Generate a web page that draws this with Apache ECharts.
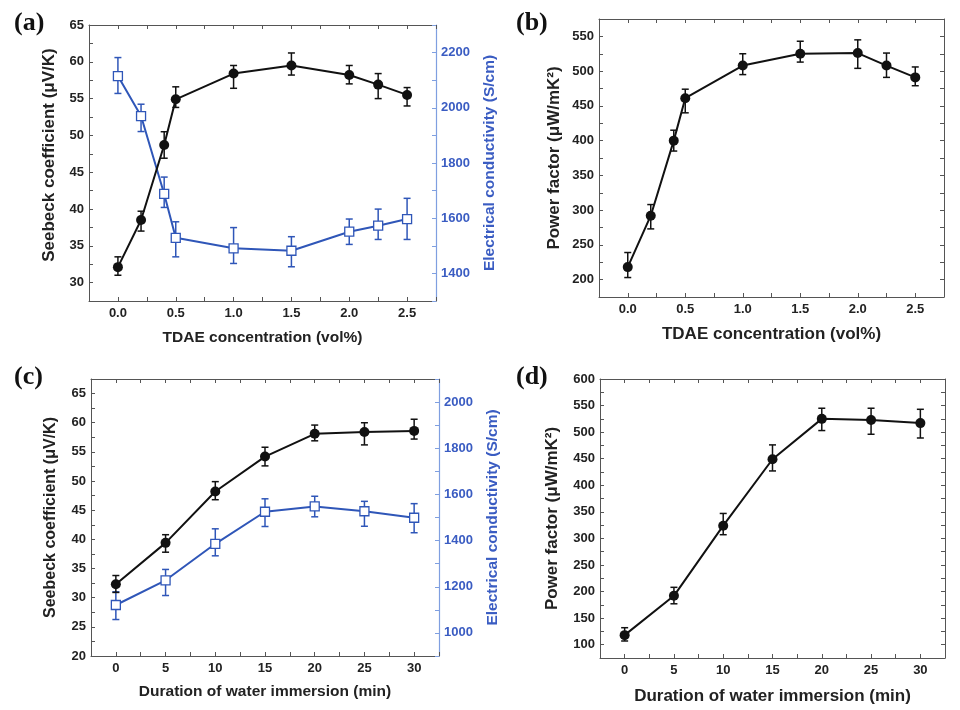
<!DOCTYPE html>
<html>
<head>
<meta charset="utf-8">
<script src="https://cdn.jsdelivr.net/npm/echarts@6/dist/echarts.min.js"></script>
<style>
html,body{margin:0;padding:0;background:#fff;}
#main{width:960px;height:710px;}
</style>
</head>
<body>
<div id="main"></div>
<script>
// ---------- data ----------
var tdaeConc = [0, 0.2, 0.4, 0.5, 1.0, 1.5, 2.0, 2.25, 2.5];
var seebeckA = [32.1, 38.5, 48.7, 54.9, 58.4, 59.5, 58.2, 56.9, 55.5];
var seebeckALo = [31.0, 37.0, 46.9, 53.8, 56.4, 58.2, 57.0, 55.0, 54.0];
var seebeckAHi = [33.5, 39.7, 50.5, 56.6, 59.5, 61.2, 59.5, 58.4, 56.5];
var condA = [2115, 1970, 1688, 1529, 1491, 1482, 1551, 1573, 1597];
var condALo = [2052, 1914, 1639, 1460, 1436, 1424, 1505, 1523, 1523];
var condAHi = [2182, 2013, 1749, 1587, 1566, 1533, 1597, 1633, 1672];
var pfB = [218, 292, 400, 461, 508, 525, 526, 508, 491];
var pfBLo = [203, 273, 385, 440, 495, 513, 504, 491, 479];
var pfBHi = [239, 308, 415, 474, 525, 543, 545, 526, 506];

var immersion = [0, 5, 10, 15, 20, 25, 30];
var seebeckC = [32.3, 39.4, 48.2, 54.2, 58.1, 58.4, 58.6];
var seebeckCLo = [30.9, 37.8, 46.8, 52.6, 56.9, 56.2, 57.2];
var seebeckCHi = [33.8, 40.8, 49.9, 55.8, 59.6, 60.0, 60.6];
var condC = [1121, 1228, 1386, 1525, 1548, 1527, 1499];
var condCLo = [1058, 1162, 1334, 1461, 1503, 1462, 1434];
var condCHi = [1178, 1275, 1451, 1581, 1592, 1570, 1560];
var pfD = [118, 192, 324, 449, 525, 523, 517];
var pfDLo = [107, 177, 307, 427, 503, 496, 489];
var pfDHi = [132, 208, 347, 476, 545, 545, 543];

var panelLabels = ['(a)', '(b)', '(c)', '(d)'];
var xNameA = 'TDAE concentration (vol%)';
var xNameC = 'Duration of water immersion (min)';
var seebeckName = 'Seebeck coefficient (\u03bcV/K)';
var condName = 'Electrical conductivity (S/cm)';
var pfName = 'Power factor (\u03bcW/mK\u00b2)';

// ---------- styles ----------
var BLACK = '#111';
var BLUE = '#2f56b8';
var BLUE_LABEL = '#3a5cc2';
var BLUE_AXIS = '#7f9fe0';
var FRAME = '#555';
var FONT = '"Liberation Sans", Arial, sans-serif';

function pairs(xs, ys) { return xs.map(function (x, i) { return [x, ys[i]]; }); }
function errData(xs, lo, hi) { return xs.map(function (x, i) { return [x, lo[i], hi[i]]; }); }
function isMult(v, step) { var r = v / step; return Math.abs(r - Math.round(r)) < 1e-6; }

function fmt(step, dec) {
  return function (v) { return isMult(v, step) ? (dec ? v.toFixed(dec) : String(Math.round(v))) : ''; };
}

function xAxisPair(grid, min, max, interval, labelStep, dec, name, nameGap, nameSize) {
  var base = {
    type: 'value', gridIndex: grid, min: min, max: max, interval: interval,
    axisLine: { show: true, onZero: false, lineStyle: { color: FRAME, width: 1 } },
    axisTick: { show: true, inside: true, length: 4, lineStyle: { color: FRAME } },
    splitLine: { show: false }
  };
  var bottom = Object.assign({}, base, {
    position: 'bottom',
    name: name, nameLocation: 'middle', nameGap: nameGap,
    nameTextStyle: { fontFamily: FONT, fontWeight: 'bold', fontSize: nameSize, color: '#222' },
    axisLabel: { show: true, margin: 6, fontFamily: FONT, fontWeight: 'bold', fontSize: 13, color: '#222', formatter: fmt(labelStep, dec), showMinLabel: true, showMaxLabel: true }
  });
  var top = Object.assign({}, base, { position: 'top', axisLabel: { show: false } });
  return [bottom, top];
}

function yAxisLeft(grid, min, max, interval, labelStep, name, nameGap, nameSize, namePad) {
  return {
    type: 'value', gridIndex: grid, position: 'left', min: min, max: max, interval: interval,
    name: name, nameLocation: 'middle', nameGap: nameGap, nameRotate: 90,
    nameTextStyle: { fontFamily: FONT, fontWeight: 'bold', fontSize: nameSize, color: '#222', padding: namePad || 0 },
    axisLine: { show: true, onZero: false, lineStyle: { color: FRAME, width: 1 } },
    axisTick: { show: true, inside: true, length: 4, lineStyle: { color: FRAME } },
    axisLabel: { show: true, margin: 5, fontFamily: FONT, fontWeight: 'bold', fontSize: 13, color: '#222', formatter: fmt(labelStep, 0) },
    splitLine: { show: false }
  };
}

function yAxisRightMirror(grid, min, max, interval) {
  return {
    type: 'value', gridIndex: grid, position: 'right', min: min, max: max, interval: interval,
    axisLine: { show: true, onZero: false, lineStyle: { color: FRAME, width: 1 } },
    axisTick: { show: true, inside: true, length: 4, lineStyle: { color: FRAME } },
    axisLabel: { show: false },
    splitLine: { show: false }
  };
}

function yAxisRightBlue(grid, min, max, interval, labelStep, name, nameGap) {
  return {
    type: 'value', gridIndex: grid, position: 'right', min: min, max: max, interval: interval,
    name: name, nameLocation: 'middle', nameGap: nameGap, nameRotate: 90,
    nameTextStyle: { fontFamily: FONT, fontWeight: 'bold', fontSize: 15.5, color: BLUE_LABEL },
    axisLine: { show: true, onZero: false, lineStyle: { color: BLUE_AXIS, width: 1.2 } },
    axisTick: { show: true, inside: true, length: 4, lineStyle: { color: BLUE_AXIS } },
    axisLabel: { show: true, margin: 5, fontFamily: FONT, fontWeight: 'bold', fontSize: 13, color: BLUE_LABEL, formatter: fmt(labelStep, 0) },
    splitLine: { show: false }
  };
}

function errSeries(xi, yi, data, color) {
  return {
    type: 'custom', xAxisIndex: xi, yAxisIndex: yi, z: 2, silent: true,
    data: data,
    renderItem: function (params, api) {
      var x = api.value(0);
      var p1 = api.coord([x, api.value(1)]);
      var p2 = api.coord([x, api.value(2)]);
      var w = 3.5;
      var st = { stroke: color, lineWidth: 1.5, fill: null };
      return {
        type: 'group',
        children: [
          { type: 'line', shape: { x1: p1[0], y1: p1[1], x2: p2[0], y2: p2[1] }, style: st },
          { type: 'line', shape: { x1: p1[0] - w, y1: p1[1], x2: p1[0] + w, y2: p1[1] }, style: st },
          { type: 'line', shape: { x1: p2[0] - w, y1: p2[1], x2: p2[0] + w, y2: p2[1] }, style: st }
        ]
      };
    }
  };
}

function blackLine(xi, yi, data) {
  return {
    type: 'line', xAxisIndex: xi, yAxisIndex: yi, z: 4, data: data,
    symbol: 'circle', symbolSize: 10, showAllSymbol: true,
    itemStyle: { color: BLACK, borderColor: BLACK, borderWidth: 0 },
    lineStyle: { color: BLACK, width: 2 },
    animation: false
  };
}

function blueLine(xi, yi, data) {
  return {
    type: 'line', xAxisIndex: xi, yAxisIndex: yi, z: 3, data: data,
    symbol: 'rect', symbolSize: 9, showAllSymbol: true,
    itemStyle: { color: '#fff', borderColor: BLUE, borderWidth: 1.3 },
    lineStyle: { color: BLUE, width: 2 },
    animation: false
  };
}

var xA = xAxisPair(0, -0.25, 2.75, 0.25, 0.5, 1, xNameA, 29, 15.5);
var xB = xAxisPair(1, -0.25, 2.75, 0.25, 0.5, 1, xNameA, 29, 17);
var xC = xAxisPair(2, -2.5, 32.5, 2.5, 5, 0, xNameC, 28, 15.5);
var xD = xAxisPair(3, -2.5, 32.5, 2.5, 5, 0, xNameC, 30, 17);

var option = {
  backgroundColor: '#fff',
  animation: false,
  grid: [
    { left: 89, top: 25, width: 347, height: 276 },
    { left: 599, top: 19, width: 345, height: 278 },
    { left: 91, top: 379, width: 348, height: 277 },
    { left: 600, top: 379, width: 345, height: 279 }
  ],
  xAxis: [].concat(xA, xB, xC, xD),
  yAxis: [
    yAxisLeft(0, 27.5, 65, 2.5, 5, seebeckName, 31, 17, [0, 0, 0, 16]),
    yAxisRightBlue(0, 1300, 2300, 100, 200, condName, 46),
    yAxisLeft(1, 175, 575, 25, 50, pfName, 36, 17),
    yAxisRightMirror(1, 175, 575, 25),
    yAxisLeft(2, 20, 67.5, 2.5, 5, seebeckName, 32, 16),
    yAxisRightBlue(2, 900, 2100, 100, 200, condName, 46),
    yAxisLeft(3, 75, 600, 25, 50, pfName, 39, 17),
    yAxisRightMirror(3, 75, 600, 25)
  ],
  graphic: [
    { type: 'text', left: 14, top: 10, style: { text: panelLabels[0], font: 'bold 26px "Liberation Serif", "Times New Roman", serif', fill: '#111' } },
    { type: 'text', left: 516, top: 10, style: { text: panelLabels[1], font: 'bold 26px "Liberation Serif", "Times New Roman", serif', fill: '#111' } },
    { type: 'text', left: 14, top: 364, style: { text: panelLabels[2], font: 'bold 26px "Liberation Serif", "Times New Roman", serif', fill: '#111' } },
    { type: 'text', left: 516, top: 364, style: { text: panelLabels[3], font: 'bold 26px "Liberation Serif", "Times New Roman", serif', fill: '#111' } }
  ],
  series: [
    errSeries(0, 1, errData(tdaeConc, condALo, condAHi), BLUE),
    errSeries(0, 0, errData(tdaeConc, seebeckALo, seebeckAHi), BLACK),
    blueLine(0, 1, pairs(tdaeConc, condA)),
    blackLine(0, 0, pairs(tdaeConc, seebeckA)),

    errSeries(2, 2, errData(tdaeConc, pfBLo, pfBHi), BLACK),
    blackLine(2, 2, pairs(tdaeConc, pfB)),

    errSeries(4, 5, errData(immersion, condCLo, condCHi), BLUE),
    errSeries(4, 4, errData(immersion, seebeckCLo, seebeckCHi), BLACK),
    blueLine(4, 5, pairs(immersion, condC)),
    blackLine(4, 4, pairs(immersion, seebeckC)),

    errSeries(6, 6, errData(immersion, pfDLo, pfDHi), BLACK),
    blackLine(6, 6, pairs(immersion, pfD))
  ]
};

var chart = echarts.init(document.getElementById('main'), null, { renderer: 'canvas' });
chart.setOption(option);
</script>
</body>
</html>
